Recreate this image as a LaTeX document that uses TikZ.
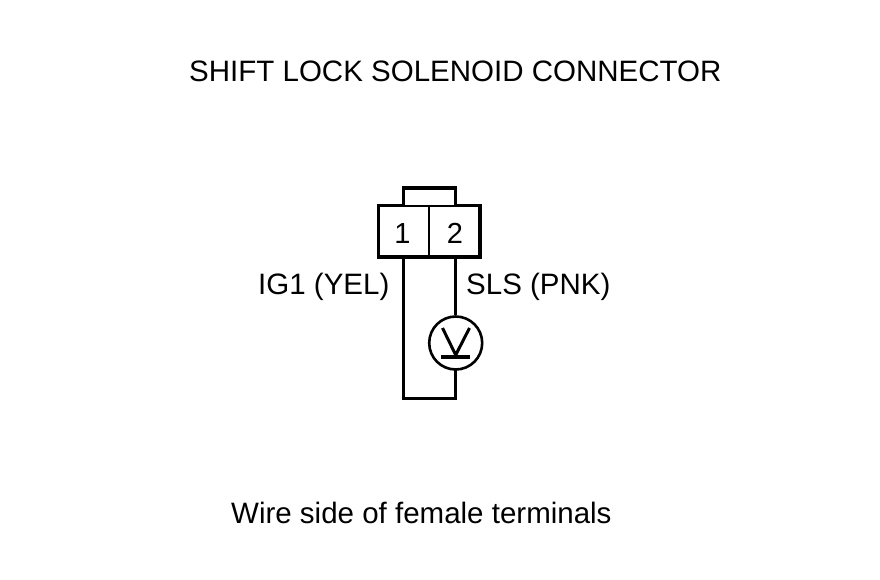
\documentclass[tikz,border=0pt]{standalone}
\usepackage{fontspec}
\setmainfont{Liberation Sans}
\tikzset{
  wire/.style={line width=3.4pt,line cap=rect,line join=miter,black},
  thinwire/.style={line width=2.6pt,black},
  lbl/.style={inner sep=0pt,font=\fontsize{29.5}{32}\selectfont,text=black,anchor=base west},
  pin/.style={inner sep=0pt,font=\fontsize{29}{32}\selectfont,text=black,anchor=base}
}
\begin{document}
\begin{tikzpicture}[x=1pt,y=-1pt]
\useasboundingbox[fill=white] (0,0) rectangle (880,580);
\node[lbl] (title) at (189,82) {SHIFT LOCK SOLENOID CONNECTOR};
\node[lbl] (left) at (258,294.5) {IG1 (YEL)};
\node[lbl] (right) at (466,294.5) {SLS (PNK)};
\node[lbl] (note) at (231,523) {Wire side of female terminals};
\node[pin] (p1) at (402.5,243) {1};
\node[pin] (p2) at (455,243) {2};
\coordinate (bl) at (378.5,205.5);
\coordinate (blb) at (378.5,257);
\coordinate (brb) at (480,257);
\coordinate (brt) at (480,205.5);
\coordinate (divt) at (429,205.5);
\coordinate (divb) at (429,257);
\coordinate (tabl) at (403.5,205.5);
\coordinate (tabr) at (455.7,205.5);
\coordinate (tabtl) at (403.5,188);
\coordinate (tabtr) at (455.7,188);
\coordinate (wl) at (403.5,257);
\coordinate (wr) at (455.7,257);
\coordinate (loopl) at (403.5,398.7);
\coordinate (loopr) at (455.7,398.7);
\node[circle,draw,line width=2.6pt,minimum size=53pt,inner sep=0pt] (meter) at (455.7,343) {};
\draw[wire] (tabl) -- (bl) -- (blb) -- (brb) -- (brt) -- (tabr);
\draw[line width=2pt] (tabl) -- (tabr);
\draw[thinwire] (divt) -- (divb);
\draw[wire] (tabl) -- (tabtl) -- (tabtr) -- (tabr);
\draw[wire,line cap=butt] (wr) -- (meter.north);
\draw[wire] (meter.south) -- (loopr) -- (loopl) -- (wl);
\coordinate (va) at (442.5,328);
\coordinate (vb) at (455.7,355);
\coordinate (vc) at (469.5,328);
\draw[line width=3pt] (va) -- (vb) -- (vc);
\coordinate (ba) at (441,357);
\coordinate (bb) at (470,357);
\draw[line width=3.6pt] (ba) -- (bb);
\end{tikzpicture}
\end{document}
